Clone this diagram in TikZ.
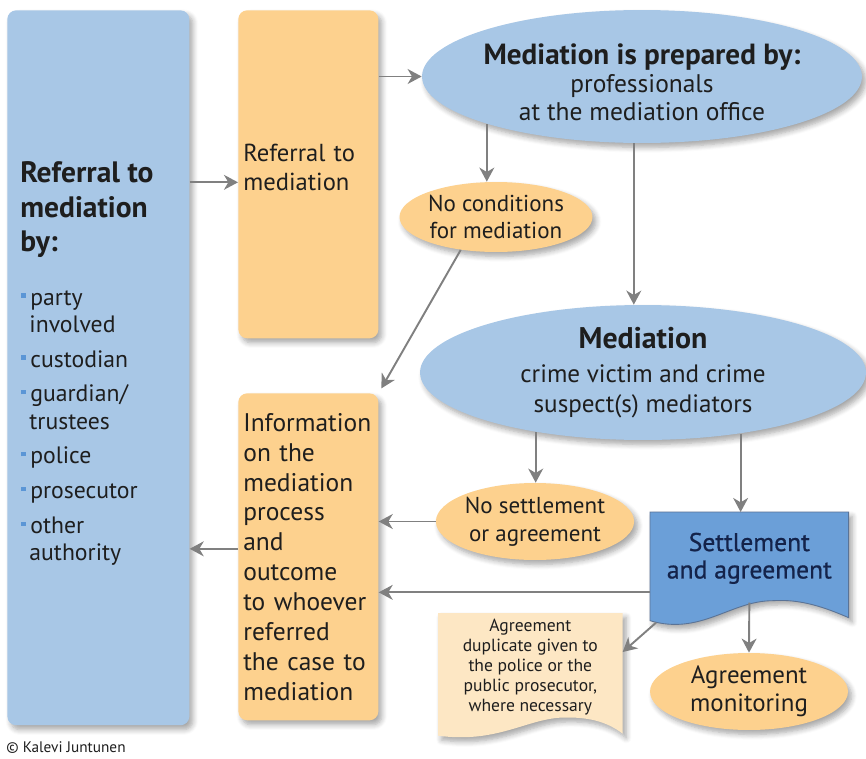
\documentclass[tikz,border=0pt]{standalone}
\usepackage{fontspec}
\setmainfont{PT Sans}
\newfontfamily\settlefont{PT Sans}[FakeBold=0.7]
\usetikzlibrary{arrows.meta, positioning, shapes.geometric, shadows.blur, calc, backgrounds}

\definecolor{refblue}{HTML}{A8C7E6}
\definecolor{reforange}{HTML}{FDD18E}
\definecolor{paperorange}{HTML}{FDE7C4}
\definecolor{settleblue}{HTML}{6B9FD8}
\definecolor{settleline}{HTML}{5A7396}
\definecolor{settletext}{HTML}{14234A}
\definecolor{arrowgray}{HTML}{808080}
\definecolor{bulletblue}{HTML}{5B96D6}
\definecolor{inktext}{HTML}{1E1E1E}

\newcommand{\bul}{\textcolor{bulletblue}{\rule[4.3pt]{2.5pt}{2.5pt}}\hspace{2.6pt}}
\newcommand{\ind}{\hspace*{4.6pt}}

\begin{document}
\begin{tikzpicture}[
	x=0.02cm, y=-0.02cm,
	every node/.style={font=\fontsize{14}{16.4}\selectfont, text=inktext},
	soft_shadow/.style={blur shadow={shadow blur steps=6, shadow xshift=2pt, shadow yshift=-2.5pt, shadow blur radius=3pt, shadow opacity=35}},
	blue_box/.style={rectangle, rounded corners=5pt, fill=refblue, soft_shadow, anchor=north west},
	orange_box/.style={rectangle, rounded corners=5pt, fill=reforange, soft_shadow, anchor=north west,
		text width=2.6cm, align=left, inner xsep=0.1cm, minimum width=2.8cm},
	blue_oval/.style={ellipse, fill=refblue, soft_shadow, inner sep=0pt, align=center},
	orange_oval/.style={ellipse, fill=reforange, soft_shadow, inner sep=0pt, align=center},
	arrow/.style={-{Stealth[length=8pt, width=8.5pt, inset=2.5pt]}, line width=1.1pt, draw=arrowgray}
	]
	\useasboundingbox (0,0) rectangle (866,758);
	
	% --- LEFT COLUMN ---
	\node[blue_box, minimum width=3.64cm, minimum height=14.3cm] (refby) at (7,10) {};
	\node[anchor=north west, align=left, inner sep=0pt, font=\fontsize{16.8}{19.8}\selectfont\bfseries] (byhead) at (20,161) {Referral to\\mediation\\by:};
	\node[anchor=north west, align=left, inner sep=0pt, font=\fontsize{13.5}{15.5}\selectfont] (bylist) at (21,290)
		{\bul party\\\ind involved\\[4.3pt]\bul custodian\\[4.3pt]\bul guardian/\\\ind trustees\\[4.3pt]\bul police\\[4.3pt]\bul prosecutor\\[4.3pt]\bul other\\\ind authority};
	
	\node[orange_box, minimum height=6.56cm] (refbox) at (238,10) {};
	\node[text width=2.6cm, align=left] (reftext) at ($(refbox.center)+(0,-7)$) {Referral to\\mediation};
	\node[orange_box, minimum height=6.54cm, font=\fontsize{14.5}{17}\selectfont] (info) at (238,393)
		{Information\\on the\\mediation\\process\\and\\outcome\\to whoever\\referred\\the case to\\mediation};
	
	% --- OVALS ---
	\node[blue_oval, minimum width=8.8cm, minimum height=2.66cm] (prep) at (642,76.5) {};
	\node[align=center, yshift=-3.3pt, font=\fontsize{14.5}{15.9}\selectfont] (preptext) at (prep)
		{{\fontsize{16.6}{15.9}\selectfont\bfseries Mediation is prepared by:}\\professionals\\at the mediation office};
	\node[orange_oval, minimum width=3.86cm, minimum height=1.4cm, font=\fontsize{13.1}{15.3}\selectfont] (nocond) at (496,217) {No conditions\\for mediation};
	\node[blue_oval, minimum width=8.92cm, minimum height=2.7cm, font=\fontsize{14.3}{17}\selectfont] (medi) at (643,372.5)
		{{\fontsize{17}{17}\selectfont\bfseries Mediation}\\[2.8pt]crime victim and crime\\suspect(s) mediators};
	\node[orange_oval, minimum width=3.92cm, minimum height=1.54cm, font=\fontsize{13.1}{15.9}\selectfont] (nosettle) at (535,521.5) {No settlement\\or agreement};
	\node[orange_oval, minimum width=3.96cm, minimum height=1.54cm, font=\fontsize{14.2}{15.9}\selectfont] (monitor) at (749,691.5) {Agreement\\monitoring};
	
	% --- DOCUMENTS ---
	\node[anchor=north west, minimum width=3.96cm, minimum height=1.84cm, align=center, text=settletext, font=\settlefont\fontsize{14.6}{15.6}\selectfont] (settle) at (650,512) {Settlement\\and agreement};
	\node[anchor=north west, minimum width=3.68cm, minimum height=2.1cm, align=center, font=\fontsize{10}{11.4}\selectfont] (dup) at (438,613)
		{Agreement\\duplicate given to\\the police or the\\public prosecutor,\\where necessary};
	\begin{scope}[on background layer]
		\filldraw[fill=settleblue, draw=settleline, line width=0.5pt, soft_shadow] (settle.north west) -- (settle.north east)
			-- ($(settle.south east)+(0,13)$) .. controls ($(settle.south east)+(-23,3)$) and ($(settle.south east)+(-48,-6)$) .. ($(settle.south east)+(-76,-4)$)
			.. controls ($(settle.south east)+(-118,-4)$) and ($(settle.south east)+(-148,31)$) .. ($(settle.south west)+(0,16)$) -- cycle;
		\fill[paperorange, soft_shadow] (dup.north west) -- (dup.north east)
			-- ($(dup.south east)+(0,12)$) .. controls ($(dup.south east)+(-17,-1)$) and ($(dup.south east)+(-37,-5)$) .. ($(dup.south east)+(-62,-4)$)
			.. controls ($(dup.south east)+(-97,-2)$) and ($(dup.south east)+(-127,22)$) .. ($(dup.south west)+(0,14)$) -- cycle;
	\end{scope}
	
	\node[anchor=base west, inner sep=0pt, font=\fontsize{8.7}{10}\selectfont] (credit) at (6,752) {\textcopyright\ Kalevi Juntunen};
	
	% --- CONNECTORS ---
	\coordinate (refin) at ($(refbox.west)+(0,8)$);
	\coordinate (infoout) at ($(info.west)+(0,-8)$);
	\coordinate (settleout) at ($(settle.west)+(0,34)$);
	\coordinate (dupin) at ($(dup.north east)+(0,39)$);
	
	\draw[arrow] (refin -| refby.east) -- (refin);
	\draw[arrow] (refbox.east |- prep.west) -- (prep.west);
	\draw[arrow] (prep.-163) -- (prep.-163 |- nocond.north);
	\draw[arrow] (prep.-97) -- (prep.-97 |- medi.north);
	\draw[arrow, shorten >=3pt] (nocond.-137) -- (info.north east);
	\draw[arrow] (medi.-151) -- (medi.-151 |- nosettle.north);
	\draw[arrow] (medi.-32) -- (medi.-32 |- settle.north);
	\draw[arrow] (nosettle.west) -- (nosettle.west -| info.east);
	\draw[arrow] (settleout) -- (settleout -| info.east);
	\draw[arrow] ($(settle.south west)+(6,18)$) -- (dupin);
	\draw[arrow] ($(settle.south)+(0,-2)$ -| monitor.north) -- (monitor.north);
	\draw[arrow] (infoout) -- (infoout -| refby.east);
	
\end{tikzpicture}
\end{document}
